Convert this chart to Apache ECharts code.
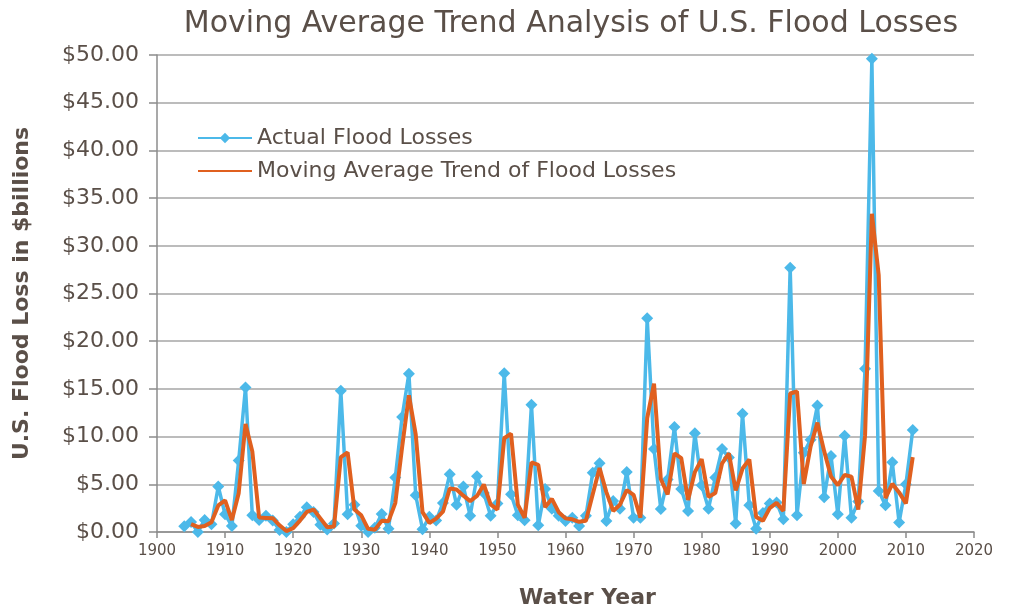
<!DOCTYPE html>
<html>
<head>
<meta charset="utf-8">
<script src="https://cdn.jsdelivr.net/npm/echarts@6/dist/echarts.min.js"></script>
<style>
  html, body { margin: 0; padding: 0; background: #fff; }
  #chart { width: 1012px; height: 611px; }
</style>
</head>
<body>
<div id="chart"></div>
<script>
// water years 1904..2011
const firstYear = 1904;

// actual flood losses, $ billions
const actualLosses = [
  0.6, 1.05, 0.0, 1.26, 0.8, 4.77, 1.86, 0.63, 7.5, 15.15,
  1.75, 1.26, 1.7, 1.2, 0.2, 0.0, 0.8, 1.6, 2.6, 2.1,
  0.75, 0.25, 0.9, 14.8, 1.86, 2.85, 0.65, 0.0, 0.45, 1.88,
  0.35, 5.7, 12.05, 16.6, 3.85, 0.3, 1.6, 1.2, 3.05, 6.06,
  2.85, 4.77, 1.7, 5.85, 4.1, 1.7, 3.0, 16.65, 3.96, 1.75,
  1.23, 13.35, 0.7, 4.5, 2.45, 1.7, 1.15, 1.5, 0.63, 1.7,
  6.2, 7.2, 1.15, 3.26, 2.45, 6.3, 1.5, 1.5, 22.4, 8.7,
  2.4, 5.5, 11.0, 4.5, 2.2, 10.35, 4.9, 2.45, 5.7, 8.7,
  7.8, 0.9, 12.4, 2.8, 0.35, 2.0, 3.0, 3.1, 1.33, 27.7,
  1.75, 8.3, 9.66, 13.25, 3.65, 7.96, 1.85, 10.1, 1.5, 3.2,
  17.1, 49.6, 4.3, 2.8, 7.3, 1.0, 5.0, 10.7
];

// moving average trend, $ billions, starts one year later (1905..2011)
const trendLosses = [
  0.83, 0.53, 0.63, 1.03, 2.79, 3.32, 1.25, 4.07, 11.33,
  8.45, 1.51, 1.48, 1.45, 0.70, 0.10, 0.40, 1.20, 2.10, 2.35,
  1.43, 0.50, 0.58, 7.85, 8.33, 2.36, 1.75, 0.33, 0.23, 1.17,
  1.12, 3.03, 8.88, 14.33, 10.23, 2.08, 0.95, 1.40, 2.13, 4.56,
  4.46, 3.81, 3.24, 3.78, 4.98, 2.90, 2.35, 9.83, 10.31, 2.86,
  1.49, 7.29, 7.03, 2.60, 3.48, 2.08, 1.43, 1.33, 1.07, 1.17,
  3.95, 6.70, 4.18, 2.21, 2.86, 4.38, 3.90, 1.50, 11.95, 15.55,
  5.55, 3.95, 8.25, 7.75, 3.35, 6.28, 7.63, 3.68, 4.08, 7.20,
  8.25, 4.35, 6.65, 7.60, 1.58, 1.18, 2.50, 3.05, 2.22, 14.52,
  14.73, 5.03, 8.98, 11.46, 8.45, 5.81, 4.91, 5.98, 5.80, 2.35,
  10.15, 33.35, 26.95, 3.55, 5.05, 4.15, 3.00, 7.85
];

const xTicks = [1900, 2020, 10];   // min, max, step
const yTicks = [0, 50, 5];

const textColor = '#5a4f48';
const fontFamily = 'DejaVu Sans';
const blue = '#4cb9e9';
const orange = '#e0601f';

const actualData = actualLosses.map((v, i) => [firstYear + i, v]);
const trendData = trendLosses.map((v, i) => [firstYear + 1 + i, v]);

const chart = echarts.init(document.getElementById('chart'));

const option = {
  animation: false,
  textStyle: { fontFamily: fontFamily, color: textColor },
  title: {
    text: 'Moving Average Trend Analysis of U.S. Flood Losses',
    left: 566,
    textAlign: 'center',
    top: 4,
    textStyle: { fontSize: 30, fontWeight: 'normal', color: textColor, fontFamily: fontFamily }
  },
  legend: {
    orient: 'vertical',
    left: 192,
    top: 122,
    itemGap: 11,
    itemWidth: 54,
    itemHeight: 13,
    textStyle: { fontSize: 22, color: textColor, fontFamily: fontFamily },
    data: [
      'Actual Flood Losses',
      { name: 'Moving Average Trend of Flood Losses', itemStyle: { opacity: 0 } }
    ]
  },
  grid: { left: 157, right: 38, top: 55, bottom: 79, outerBoundsMode: 'none' },
  xAxis: {
    type: 'value',
    min: xTicks[0],
    max: xTicks[1],
    interval: xTicks[2],
    name: 'Water Year',
    nameLocation: 'middle',
    nameGap: 55,
    nameTextStyle: { fontSize: 22, fontWeight: 'bold', color: textColor, padding: [0, 0, 0, 44] },
    axisLine: { lineStyle: { color: '#8c8c8c', width: 1.5 } },
    axisTick: { show: true, length: 6, lineStyle: { color: '#8c8c8c', width: 1.5 } },
    splitLine: { show: false },
    axisLabel: { fontSize: 15, color: textColor, margin: 12, formatter: v => String(v) }
  },
  yAxis: {
    type: 'value',
    min: yTicks[0],
    max: yTicks[1],
    interval: yTicks[2],
    name: 'U.S. Flood Loss in $billions',
    nameLocation: 'middle',
    nameGap: 124,
    nameTextStyle: { fontSize: 22, fontWeight: 'bold', color: textColor },
    axisLine: { show: true, lineStyle: { color: '#8c8c8c', width: 1.5 } },
    axisTick: { show: true, length: 8, lineStyle: { color: '#8c8c8c', width: 1.5 } },
    splitLine: { lineStyle: { color: '#a6a6a6', width: 1.5 } },
    axisLabel: {
      fontSize: 22,
      color: textColor,
      margin: 18,
      formatter: v => '$' + v.toFixed(2)
    }
  },
  series: [
    {
      name: 'Actual Flood Losses',
      type: 'line',
      data: actualData,
      symbol: 'diamond',
      symbolSize: 12,
      showAllSymbol: true,
      itemStyle: { color: blue },
      lineStyle: { color: blue, width: 3.5 },
      z: 2
    },
    {
      name: 'Moving Average Trend of Flood Losses',
      type: 'line',
      data: trendData,
      symbol: 'none',
      itemStyle: { color: orange },
      lineStyle: { color: orange, width: 4 },
      z: 3
    }
  ]
};

chart.setOption(option);
</script>
</body>
</html>
